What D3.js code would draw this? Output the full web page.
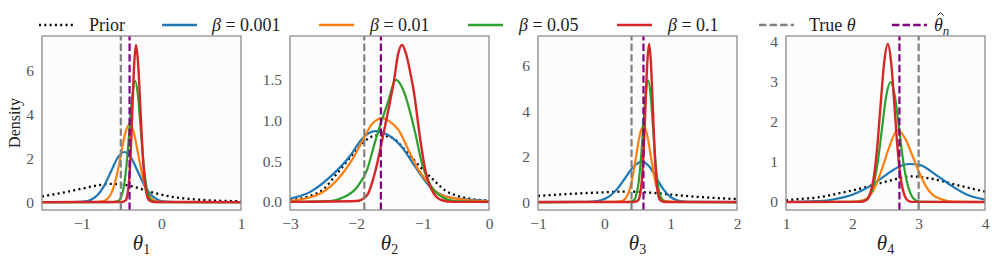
<!DOCTYPE html>
<html>
<head>
<meta charset="utf-8">
<script src="https://cdn.jsdelivr.net/npm/d3@7"></script>
<style>
  body { margin: 0; background: #fff; }
</style>
</head>
<body>
<svg id="chart" width="997" height="262"></svg>
<script>
// ---- data ----
const xDomains = [[-1.5, 1], [-3, 0], [-1, 2], [1, 4]];
const yDomains = [[-0.36, 7.56], [-0.1, 2.04], [-0.35, 7.3], [-0.2, 4.15]];
const xTicks = [[-1, 0, 1], [-3, -2, -1, 0], [-1, 0, 1, 2], [1, 2, 3, 4]];
const yTicks = [[0, 2, 4, 6], [0, 0.5, 1, 1.5], [0, 2, 4, 6], [0, 1, 2, 3, 4]];
const yTickFmt = ['d', '.1f', 'd', 'd'];
const paramSub = ['1', '2', '3', '4'];
const trueTheta = [-0.51, -1.88, 0.41, 3.0];
const thetaHat = [-0.40, -1.63, 0.59, 2.71];

const prior = [
  [[-1.5,0.26],[-1.25,0.42],[-1.0,0.61],[-0.8,0.76],[-0.65,0.83],[-0.52,0.81],[-0.37,0.72],[-0.24,0.58],[-0.10,0.43],[0.15,0.23],[0.47,0.11],[0.85,0.05],[1.0,0.04]],
  [[-3,0.02],[-2.75,0.06],[-2.49,0.16],[-2.29,0.35],[-2.09,0.55],[-1.91,0.72],[-1.69,0.82],[-1.55,0.81],[-1.44,0.78],[-1.26,0.63],[-1.06,0.45],[-0.81,0.25],[-0.66,0.14],[-0.50,0.08],[-0.30,0.04],[-0.10,0.02],[0,0.015]],
  [[-1,0.27],[-0.5,0.36],[0,0.43],[0.35,0.46],[0.7,0.41],[1.0,0.33],[1.3,0.25],[1.6,0.19],[2.0,0.13]],
  [[1,0.04],[1.1,0.06],[1.5,0.12],[1.86,0.24],[2.16,0.35],[2.46,0.49],[2.65,0.57],[2.9,0.64],[3.1,0.61],[3.36,0.52],[3.61,0.41],[3.92,0.29],[4,0.26]]
];
const beta001 = [
  [[-1.5,0],[-1.1,0.003],[-0.975,0.025],[-0.89,0.10],[-0.805,0.31],[-0.72,0.74],[-0.635,1.38],[-0.55,2.01],[-0.465,2.28],[-0.38,2.01],[-0.295,1.38],[-0.21,0.74],[-0.125,0.31],[-0.04,0.10],[0.045,0.025],[0.17,0.003],[1,0]],
  [[-3,0.04],[-2.70,0.12],[-2.39,0.31],[-2.09,0.57],[-1.91,0.78],[-1.72,0.87],[-1.515,0.82],[-1.31,0.67],[-1.16,0.49],[-1.01,0.31],[-0.86,0.16],[-0.66,0.07],[-0.35,0.03],[0,0.01]],
  [[-1,0],[-0.35,0.004],[-0.18,0.02],[-0.055,0.08],[0.07,0.24],[0.195,0.58],[0.32,1.08],[0.445,1.57],[0.57,1.78],[0.675,1.57],[0.78,1.08],[0.885,0.58],[0.99,0.24],[1.095,0.08],[1.2,0.02],[1.35,0.003],[2,0]],
  [[1,0],[1.5,0.02],[1.75,0.075],[2.0,0.18],[2.26,0.39],[2.51,0.68],[2.71,0.89],[2.86,0.95],[3.01,0.93],[3.26,0.68],[3.51,0.39],[3.76,0.16],[4.0,0.06]]
];
const beta01 = [
  [[-1.5,0],[-0.85,0.003],[-0.73,0.04],[-0.675,0.16],[-0.62,0.48],[-0.565,1.15],[-0.51,2.15],[-0.455,3.13],[-0.40,3.55],[-0.345,3.13],[-0.29,2.15],[-0.235,1.15],[-0.18,0.48],[-0.125,0.16],[-0.07,0.04],[0.05,0.003],[1,0]],
  [[-3,0.01],[-2.6,0.08],[-2.29,0.27],[-2.04,0.55],[-1.89,0.78],[-1.75,0.97],[-1.60,1.03],[-1.5,0.99],[-1.36,0.88],[-1.21,0.63],[-1.06,0.39],[-0.91,0.23],[-0.76,0.10],[-0.5,0.04],[-0.1,0.01],[0,0.01]],
  [[-1,0],[0.14,0.003],[0.26,0.04],[0.315,0.15],[0.37,0.45],[0.425,1.09],[0.48,2.03],[0.535,2.96],[0.59,3.35],[0.645,2.96],[0.70,2.03],[0.755,1.09],[0.81,0.45],[0.865,0.15],[0.92,0.04],[1.04,0.003],[2,0]],
  [[1,0],[2.0,0.002],[2.16,0.04],[2.31,0.27],[2.46,0.89],[2.56,1.39],[2.68,1.80],[2.805,1.56],[2.91,1.14],[3.01,0.73],[3.11,0.39],[3.21,0.18],[3.36,0.06],[3.51,0.01],[4,0]]
];
const beta05 = [
  [[-1.5,0],[-0.62,0.002],[-0.54,0.06],[-0.505,0.24],[-0.47,0.75],[-0.435,1.8],[-0.40,3.35],[-0.365,4.87],[-0.33,5.52],[-0.295,4.87],[-0.26,3.35],[-0.225,1.8],[-0.19,0.75],[-0.155,0.24],[-0.12,0.06],[-0.04,0.002],[1,0]],
  [[-3,0],[-2.4,0.01],[-2.24,0.04],[-1.99,0.18],[-1.84,0.39],[-1.71,0.76],[-1.53,1.21],[-1.40,1.50],[-1.29,1.37],[-1.11,0.84],[-1.01,0.47],[-0.88,0.20],[-0.71,0.06],[-0.5,0.01],[0,0]],
  [[-1,0],[0.35,0.002],[0.435,0.06],[0.4725,0.23],[0.51,0.72],[0.5475,1.74],[0.585,3.24],[0.6225,4.72],[0.66,5.35],[0.6975,4.72],[0.735,3.24],[0.7725,1.74],[0.81,0.72],[0.8475,0.23],[0.885,0.06],[0.97,0.002],[2,0]],
  [[1,0],[2.1,0.002],[2.186,0.033],[2.251,0.13],[2.316,0.41],[2.381,0.97],[2.446,1.82],[2.511,2.65],[2.576,3.0],[2.641,2.65],[2.706,1.82],[2.771,0.97],[2.836,0.41],[2.901,0.13],[2.966,0.033],[3.05,0.002],[4,0]]
];
const beta1 = [
  [[-1.5,0],[-0.50,0.003],[-0.449,0.08],[-0.4275,0.32],[-0.406,0.97],[-0.3845,2.34],[-0.363,4.37],[-0.3415,6.3],[-0.32,7.15],[-0.2925,6.3],[-0.265,4.37],[-0.2375,2.34],[-0.21,0.97],[-0.1825,0.32],[-0.155,0.08],[-0.09,0.003],[1,0]],
  [[-3,0],[-2.0,0.01],[-1.84,0.08],[-1.71,0.39],[-1.59,0.84],[-1.51,1.16],[-1.43,1.5],[-1.37,1.82],[-1.31,1.93],[-1.25,1.82],[-1.17,1.52],[-1.136,1.37],[-1.035,0.76],[-0.96,0.39],[-0.86,0.14],[-0.71,0.02],[-0.55,0],[0,0]],
  [[-1,0],[0.44,0.003],[0.51,0.08],[0.5375,0.31],[0.565,0.94],[0.5925,2.26],[0.62,4.22],[0.6475,6.13],[0.675,6.95],[0.7025,6.13],[0.73,4.22],[0.7575,2.26],[0.785,0.94],[0.8125,0.31],[0.84,0.08],[0.9,0.003],[2,0]],
  [[1,0],[2.1,0.003],[2.205,0.04],[2.26,0.17],[2.315,0.53],[2.37,1.28],[2.425,2.40],[2.48,3.49],[2.535,3.95],[2.585,3.49],[2.635,2.40],[2.685,1.28],[2.735,0.53],[2.785,0.17],[2.835,0.04],[2.9,0.003],[4,0]]
];

// ---- layout / styling ----
const FONT = "'Liberation Serif', 'Times New Roman', 'DejaVu Serif', serif";
const svg = d3.select('#chart');
const panelLeft = [42, 290, 538, 786], panelW = 199, plotTop = 36, panelH = 174;
const series = [
  { pts: prior,   color: '#000000', dash: '2,3.3', lw: 2.3 },
  { pts: beta001, color: '#1f77b4', dash: null, lw: 2.2 },
  { pts: beta01,  color: '#ff7f0e', dash: null, lw: 2.2 },
  { pts: beta05,  color: '#2ca02c', dash: null, lw: 2.2 },
  { pts: beta1,   color: '#d62728', dash: null, lw: 2.4 }
];
const vlineDash = '7.4,3.2';

panelLeft.forEach((left, i) => {
  const x = d3.scaleLinear().domain(xDomains[i]).range([left, left + panelW]);
  const y = d3.scaleLinear().domain(yDomains[i]).range([plotTop + panelH, plotTop]);
  const g = svg.append('g');

  g.append('rect').attr('x', left).attr('y', plotTop).attr('width', panelW).attr('height', panelH)
    .attr('fill', '#fcfcfc');
  svg.append('clipPath').attr('id', 'clip' + i).append('rect')
    .attr('x', left).attr('y', plotTop).attr('width', panelW).attr('height', panelH);
  const plot = g.append('g').attr('clip-path', `url(#clip${i})`);

  const line = d3.line().x(d => x(d[0])).y(d => y(d[1])).curve(d3.curveMonotoneX);
  series.forEach(s => {
    plot.append('path').attr('d', line(s.pts[i]))
      .attr('fill', 'none').attr('stroke', s.color).attr('stroke-width', s.lw)
      .attr('stroke-dasharray', s.dash);
  });
  // vertical reference lines (drawn bottom -> top like axvline)
  [[trueTheta[i], '#808080'], [thetaHat[i], '#800080']].forEach(([v, c]) => {
    plot.append('line').attr('x1', x(v)).attr('x2', x(v)).attr('y1', plotTop + panelH).attr('y2', plotTop)
      .attr('stroke', c).attr('stroke-width', 2.2).attr('stroke-dasharray', vlineDash);
  });

  g.append('rect').attr('x', left).attr('y', plotTop).attr('width', panelW).attr('height', panelH)
    .attr('fill', 'none').attr('stroke', '#8c8c8c').attr('stroke-width', 1.3);

  const xa = g.append('g').attr('transform', `translate(0,${plotTop + panelH})`)
    .call(d3.axisBottom(x).tickValues(xTicks[i]).tickSize(0).tickPadding(8).tickFormat(d3.format('d')));
  const ya = g.append('g').attr('transform', `translate(${left},0)`)
    .call(d3.axisLeft(y).tickValues(yTicks[i]).tickSize(0).tickPadding(8).tickFormat(d3.format(yTickFmt[i])));
  [xa, ya].forEach(a => {
    a.select('.domain').remove();
    a.attr('font-family', FONT).attr('font-size', 15.5);
    a.selectAll('text').attr('fill', '#555');
  });

  const lab = g.append('text').attr('x', left + panelW / 2).attr('y', 250)
    .attr('text-anchor', 'middle').attr('fill', '#222').attr('font-size', 21).attr('font-family', FONT);
  lab.append('tspan').attr('font-style', 'italic').text('θ');
  lab.append('tspan').attr('font-size', 14).attr('dy', 4).text(paramSub[i]);
});

svg.append('text').attr('transform', `translate(20,${plotTop + panelH / 2}) rotate(-90)`)
  .attr('text-anchor', 'middle').attr('font-size', 16).attr('fill', '#222')
  .attr('font-family', FONT).text('Density');

// ---- legend ----
const legLineX = [39, 162, 319, 468, 617, 759, 892];
const legTextX = [89, 212, 370, 519, 668, 809, 934];
const legStyles = [
  { color: '#000', dash: '2,3.3' }, { color: '#1f77b4' }, { color: '#ff7f0e' },
  { color: '#2ca02c' }, { color: '#d62728' },
  { color: '#808080', dash: vlineDash }, { color: '#800080', dash: vlineDash }
];
const betaLabels = ['0.001', '0.01', '0.05', '0.1'];
const leg = svg.append('g').attr('font-size', 18).attr('fill', '#222').attr('font-family', FONT);
legStyles.forEach((s, k) => {
  leg.append('line').attr('x1', legLineX[k]).attr('x2', legLineX[k] + 35).attr('y1', 25).attr('y2', 25)
    .attr('stroke', s.color).attr('stroke-width', 2.3).attr('stroke-dasharray', s.dash || null);
  const t = leg.append('text').attr('x', legTextX[k]).attr('y', 31);
  if (k === 0) t.text('Prior');
  else if (k <= 4) {
    t.append('tspan').attr('font-style', 'italic').text('β');
    t.append('tspan').text(' = ' + betaLabels[k - 1]);
  } else if (k === 5) {
    t.append('tspan').text('True ');
    t.append('tspan').attr('font-style', 'italic').text('θ');
  } else {
    t.append('tspan').attr('font-style', 'italic').text('θ');
    t.append('tspan').attr('font-style', 'italic').attr('font-size', 13).attr('dy', 4).text('n');
    // circumflex accent over θ, drawn as a small stroke
    const hx = legTextX[k] + 6.5;
    leg.append('path').attr('d', `M${hx - 3},${15.5} L${hx},${12.5} L${hx + 3},${15.5}`)
      .attr('fill', 'none').attr('stroke', '#222').attr('stroke-width', 1);
  }
});
</script>
</body>
</html>
